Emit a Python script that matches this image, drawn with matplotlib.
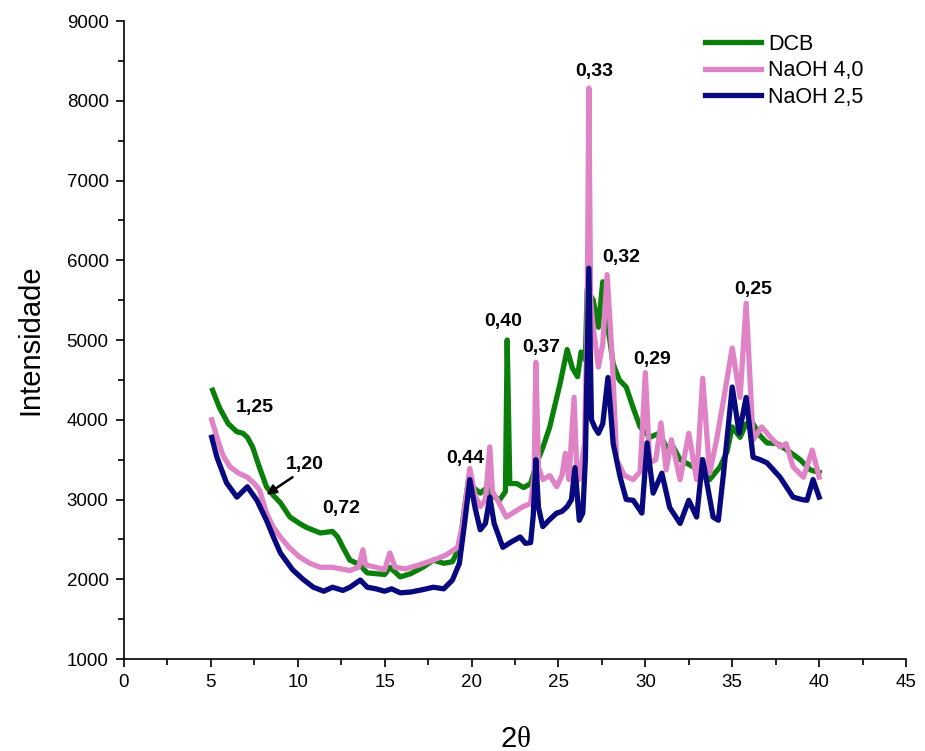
import matplotlib
matplotlib.use('Agg')
import matplotlib.pyplot as plt
from matplotlib.ticker import MultipleLocator

plt.rcParams['font.family'] = ['Liberation Sans', 'DejaVu Sans']
plt.rcParams['mathtext.fontset'] = 'custom'
plt.rcParams['mathtext.rm'] = 'Liberation Sans'
plt.rcParams['mathtext.it'] = 'Liberation Serif'

# DCB
dcb_2theta = [5.1, 5.5, 6.0, 6.5, 6.85, 7.1, 7.4, 7.8, 8.2, 8.6, 9.0, 9.55, 10.1, 10.5, 11.3,
              12.0, 12.3, 12.6, 13.0, 13.4, 13.7, 14.0, 15.0, 15.3, 15.9, 16.5, 17.2, 17.8,
              18.4, 18.9, 19.3, 19.6, 19.85, 20.1, 20.5, 20.9, 21.2, 21.6, 21.95, 22.05, 22.2,
              22.6, 23.0, 23.4, 23.75, 24.1, 24.5, 25.1, 25.5, 25.8, 26.1, 26.3, 26.55, 26.65,
              27.0, 27.3, 27.55, 27.85, 28.15, 28.5, 28.9, 29.3, 29.7, 30.25, 30.8, 31.2, 31.6,
              32.0, 32.75, 33.2, 33.7, 34.3, 34.7, 35.0, 35.45, 35.8, 36.2, 36.6, 37.0, 37.6,
              38.15, 38.6, 38.9, 39.5, 40.0]
dcb_int = [4370, 4150, 3950, 3850, 3830, 3780, 3660, 3400, 3160, 3050, 2960, 2780, 2700, 2650, 2580,
           2600, 2530, 2400, 2240, 2200, 2150, 2080, 2060, 2150, 2030, 2070, 2150, 2240,
           2200, 2220, 2400, 2900, 3280, 3150, 3080, 3150, 3050, 2990, 3100, 5000, 3200,
           3200, 3150, 3200, 3460, 3650, 3910, 4460, 4880, 4650, 4540, 4850, 4750, 5630,
           5500, 5160, 5730, 5160, 4700, 4500, 4410, 4150, 3910, 3780, 3830, 3660, 3660,
           3500, 3410, 3500, 3250, 3410, 3600, 3910, 3780, 3950, 3950, 3800, 3710, 3700,
           3620, 3550, 3500, 3370, 3340]

# NaOH 4,0
naoh40_2theta = [5.05, 5.35, 5.7, 6.1, 6.6, 7.1, 7.5, 7.8, 8.2, 8.6, 9.0, 9.5, 10.1, 10.7, 11.3,
                 12.0, 12.5, 13.0, 13.5, 13.75, 13.9, 14.5, 15.0, 15.3, 15.6, 16.2, 17.0, 17.8,
                 18.5, 19.2, 19.5, 19.9, 20.2, 20.5, 20.8, 21.05, 21.2, 21.5, 22.0, 22.5, 22.95,
                 23.4, 23.6, 23.7, 23.85, 24.1, 24.5, 24.9, 25.2, 25.4, 25.6, 25.9, 26.05, 26.2,
                 26.5, 26.65, 26.75, 26.85, 27.0, 27.3, 27.55, 27.8, 28.1, 28.35, 28.8, 29.3,
                 29.7, 30.0, 30.25, 30.6, 30.9, 31.2, 31.5, 32.0, 32.5, 32.95, 33.3, 33.7, 34.1,
                 34.5, 35.0, 35.45, 35.8, 36.2, 36.7, 37.2, 37.75, 38.1, 38.5, 39.1, 39.6, 39.9,
                 40.0]
naoh40_int = [4000, 3780, 3550, 3410, 3330, 3280, 3200, 3120, 2830, 2650, 2530, 2400, 2280, 2200, 2150,
              2150, 2130, 2110, 2150, 2370, 2180, 2150, 2120, 2330, 2150, 2130, 2180, 2240,
              2300, 2400, 2700, 3390, 3050, 2910, 3000, 3660, 3100, 2990, 2780, 2850, 2910,
              2950, 3300, 4720, 3400, 3250, 3300, 3160, 3300, 3580, 3250, 4280, 3400, 3250,
              3700, 5200, 8160, 5500, 5160, 4660, 4950, 5820, 4750, 3500, 3300, 3250,
              3350, 4590, 3460, 3500, 3960, 3370, 3750, 3250, 3830, 3250, 4520, 3330, 3750,
              4250, 4900, 4280, 5460, 3750, 3910, 3780, 3660, 3700, 3410, 3280, 3620, 3370,
              3280]

# NaOH 2,5
naoh25_2theta = [5.05, 5.35, 5.9, 6.5, 7.1, 7.65, 8.2, 8.6, 9.0, 9.7, 10.3, 10.9, 11.5, 12.0,
                 12.6, 13.0, 13.6, 14.0, 14.5, 15.0, 15.4, 15.9, 16.5, 17.2, 17.8, 18.4, 18.9,
                 19.3, 19.6, 19.9, 20.2, 20.5, 20.8, 21.05, 21.3, 21.8, 22.3, 22.8, 23.1, 23.4,
                 23.55, 23.7, 23.85, 24.1, 24.5, 24.9, 25.2, 25.5, 25.75, 25.95, 26.2, 26.4,
                 26.55, 26.75, 26.9, 27.1, 27.3, 27.55, 27.85, 28.15, 28.55, 28.9, 29.3, 29.8,
                 30.1, 30.45, 30.95, 31.4, 32.0, 32.5, 32.95, 33.3, 33.9, 34.2, 34.5, 35.0, 35.4,
                 35.8, 36.2, 36.6, 37.0, 37.75, 38.5, 39.0, 39.3, 39.65, 40.0]
naoh25_int = [3780, 3530, 3210, 3030, 3160, 2990, 2740, 2530, 2330, 2120, 2000, 1900, 1850, 1900,
              1860, 1900, 1990, 1900, 1880, 1850, 1880, 1830, 1840, 1870, 1900, 1880, 1990,
              2200, 2700, 3250, 2900, 2620, 2700, 3030, 2700, 2400, 2470, 2530, 2450, 2460,
              2800, 3500, 2900, 2660, 2750, 2830, 2850, 2910, 3000, 3400, 2740, 2830,
              3500, 5900, 4000, 3900, 3830, 3950, 4530, 3700, 3280, 3000, 2990, 2830,
              3710, 3080, 3330, 2900, 2700, 2990, 2780, 3500, 2780, 2740, 3330, 4410, 3830,
              4280, 3530, 3500, 3460, 3280, 3030, 3000, 2990, 3250, 3030]

# d-spacing labels (nm) and their positions
peak_labels = ['1,25', '0,72', '0,44', '0,40', '0,37', '0,33', '0,32', '0,29', '0,25']
label_2theta = [7.54, 12.49, 19.62, 21.81, 23.99, 27.04, 28.6, 30.38, 36.19]
label_int = [4150, 2890, 3520, 5230, 4900, 8370, 6040, 4760, 5630]

fig = plt.figure(figsize=(9.25, 7.51), dpi=100)
ax = fig.add_axes([0.134, 0.1225, 0.8455, 0.8495])

lw = 3.8
ax.plot(dcb_2theta, dcb_int, color='#0a800a', lw=lw, label='DCB')
ax.plot(naoh40_2theta, naoh40_int, color='#e083c6', lw=lw, label='NaOH 4,0')
ax.plot(naoh25_2theta, naoh25_int, color='#08087f', lw=lw, label='NaOH 2,5')

for txt, x, y in zip(peak_labels, label_2theta, label_int):
    ax.text(x, y, txt, ha='center', va='center', fontsize=14, fontweight='bold')

ax.text(10.41, 3433, '1,20', ha='center', va='center', fontsize=14, fontweight='bold')
ax.annotate('', xy=(8.2, 3060), xytext=(9.7, 3280),
            arrowprops=dict(arrowstyle='-|>', color='black', lw=1.8, mutation_scale=14,
                            shrinkA=0, shrinkB=0))

ax.set_xlim(0, 45)
ax.set_ylim(1000, 9000)
ax.xaxis.set_major_locator(MultipleLocator(5))
ax.xaxis.set_minor_locator(MultipleLocator(2.5))
ax.yaxis.set_major_locator(MultipleLocator(1000))
ax.yaxis.set_minor_locator(MultipleLocator(500))
ax.tick_params(which='major', direction='out', length=6, width=1.2, labelsize=13.5, pad=5)
ax.tick_params(which='minor', direction='out', length=4, width=1.2)
for s in ['top', 'right']:
    ax.spines[s].set_visible(False)
for s in ['left', 'bottom']:
    ax.spines[s].set_linewidth(1.2)

ax.set_xlabel(r'2$\theta$', fontsize=21, labelpad=24)
ax.set_ylabel('Intensidade', fontsize=21, labelpad=16)

ax.legend(loc='upper left', bbox_to_anchor=(0.718, 1.01), frameon=False, fontsize=15.5,
          handlelength=2.6, handletextpad=0.35, labelspacing=0.25)

fig.savefig('out.png', dpi=100)
